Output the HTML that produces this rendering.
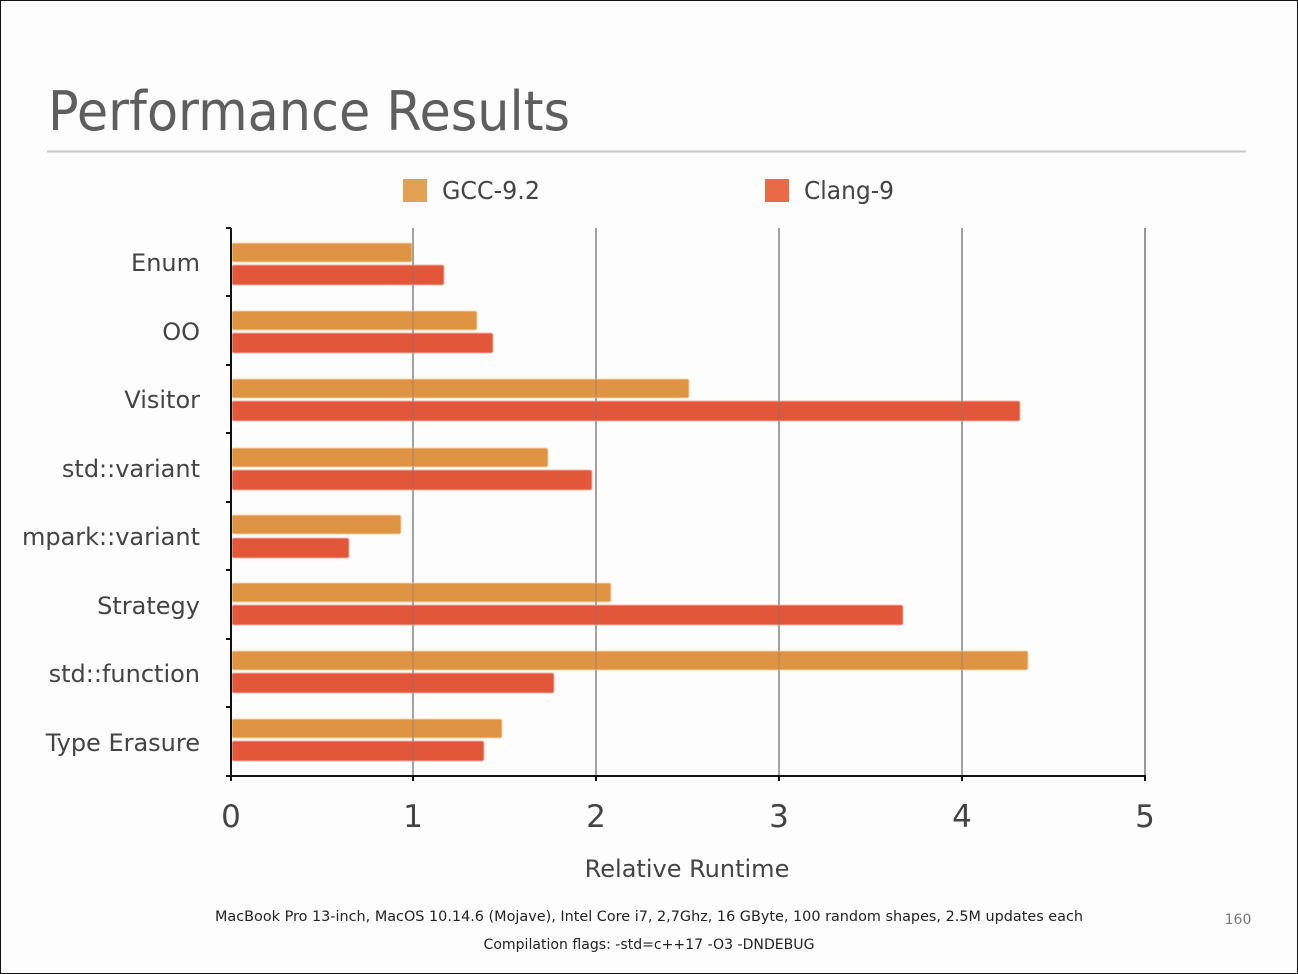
<!DOCTYPE html>
<html><head><meta charset="utf-8"><style>
html,body{margin:0;padding:0;background:#fff}
svg{display:block}
text{font-family:"DejaVu Sans","Liberation Sans",sans-serif}
</style></head><body>
<svg width="1298" height="974" viewBox="0 0 1298 974" xmlns="http://www.w3.org/2000/svg">
<rect x="0.5" y="0.5" width="1297" height="973" fill="#fdfdfd" stroke="#111" stroke-width="1"/>
<text x="48" y="130" font-size="54" fill="#5e5e5e" textLength="522" lengthAdjust="spacingAndGlyphs">Performance Results</text>
<line x1="47" y1="151.5" x2="1246" y2="151.5" stroke="#c8c8c8" stroke-width="2"/>
<rect x="403" y="179" width="24" height="23" fill="#e3a052"/>
<text x="442" y="199" font-size="25" fill="#444" textLength="98" lengthAdjust="spacingAndGlyphs">GCC-9.2</text>
<rect x="765" y="179" width="24" height="23" fill="#ea6a48"/>
<text x="804" y="199" font-size="25" fill="#444" textLength="90" lengthAdjust="spacingAndGlyphs">Clang-9</text>
<g stroke="#555" stroke-width="1.2">
<line x1="413" y1="228" x2="413" y2="776"/>
<line x1="596" y1="228" x2="596" y2="776"/>
<line x1="779" y1="228" x2="779" y2="776"/>
<line x1="962" y1="228" x2="962" y2="776"/>
<line x1="1145" y1="228" x2="1145" y2="776"/>
</g>
<g fill="#df9443" stroke="#f5d2a8" stroke-width="1">
<rect x="232" y="243" width="180" height="19" rx="2"/>
<rect x="232" y="311" width="245" height="19" rx="2"/>
<rect x="232" y="379" width="457" height="19" rx="2"/>
<rect x="232" y="448" width="316" height="19" rx="2"/>
<rect x="232" y="515" width="169" height="19" rx="2"/>
<rect x="232" y="583" width="379" height="19" rx="2"/>
<rect x="232" y="651" width="796" height="19" rx="2"/>
<rect x="232" y="719" width="270" height="19" rx="2"/>
</g>
<g fill="#e2563a" stroke="#f4b3a3" stroke-width="1">
<rect x="232" y="265" width="212" height="20" rx="2"/>
<rect x="232" y="333" width="261" height="20" rx="2"/>
<rect x="232" y="401" width="788" height="20" rx="2"/>
<rect x="232" y="470" width="360" height="20" rx="2"/>
<rect x="232" y="538" width="117" height="20" rx="2"/>
<rect x="232" y="605" width="671" height="20" rx="2"/>
<rect x="232" y="673" width="322" height="20" rx="2"/>
<rect x="232" y="741" width="252" height="20" rx="2"/>
</g>
<g stroke="#777" stroke-width="1" opacity="0.6">
<line x1="413" y1="228" x2="413" y2="776"/>
<line x1="596" y1="228" x2="596" y2="776"/>
<line x1="779" y1="228" x2="779" y2="776"/>
<line x1="962" y1="228" x2="962" y2="776"/>
</g>
<g stroke="#111" stroke-width="2">
<line x1="231" y1="228" x2="231" y2="777"/>
<line x1="226" y1="776" x2="1146" y2="776"/>
<line x1="226" y1="228" x2="231" y2="228"/>
<line x1="226" y1="296" x2="231" y2="296"/>
<line x1="226" y1="365" x2="231" y2="365"/>
<line x1="226" y1="433" x2="231" y2="433"/>
<line x1="226" y1="502" x2="231" y2="502"/>
<line x1="226" y1="570" x2="231" y2="570"/>
<line x1="226" y1="639" x2="231" y2="639"/>
<line x1="226" y1="707" x2="231" y2="707"/>
<line x1="231" y1="776" x2="231" y2="781"/>
<line x1="413" y1="776" x2="413" y2="781"/>
<line x1="596" y1="776" x2="596" y2="781"/>
<line x1="779" y1="776" x2="779" y2="781"/>
<line x1="962" y1="776" x2="962" y2="781"/>
<line x1="1145" y1="776" x2="1145" y2="781"/>
</g>
<g font-size="24" fill="#444" text-anchor="end">
<text x="200" y="271">Enum</text>
<text x="200" y="340">OO</text>
<text x="200" y="408">Visitor</text>
<text x="200" y="477">std::variant</text>
<text x="200" y="545">mpark::variant</text>
<text x="200" y="614">Strategy</text>
<text x="200" y="682">std::function</text>
<text x="200" y="751">Type Erasure</text>
</g>
<g font-size="31" fill="#444" text-anchor="middle">
<text x="231" y="827">0</text>
<text x="413" y="827">1</text>
<text x="596" y="827">2</text>
<text x="779" y="827">3</text>
<text x="962" y="827">4</text>
<text x="1145" y="827">5</text>
</g>
<text x="687" y="877" font-size="24" fill="#444" text-anchor="middle">Relative Runtime</text>
<text x="649" y="921" font-size="14.5" fill="#222" text-anchor="middle" textLength="868" lengthAdjust="spacingAndGlyphs">MacBook Pro 13-inch, MacOS 10.14.6 (Mojave), Intel Core i7, 2,7Ghz, 16 GByte, 100 random shapes, 2.5M updates each</text>
<text x="649" y="949" font-size="14.5" fill="#222" text-anchor="middle" textLength="331" lengthAdjust="spacingAndGlyphs">Compilation flags:  -std=c++17 -O3 -DNDEBUG</text>
<text x="1238" y="924" font-size="14" fill="#777" text-anchor="middle">160</text>
</svg>
</body></html>
